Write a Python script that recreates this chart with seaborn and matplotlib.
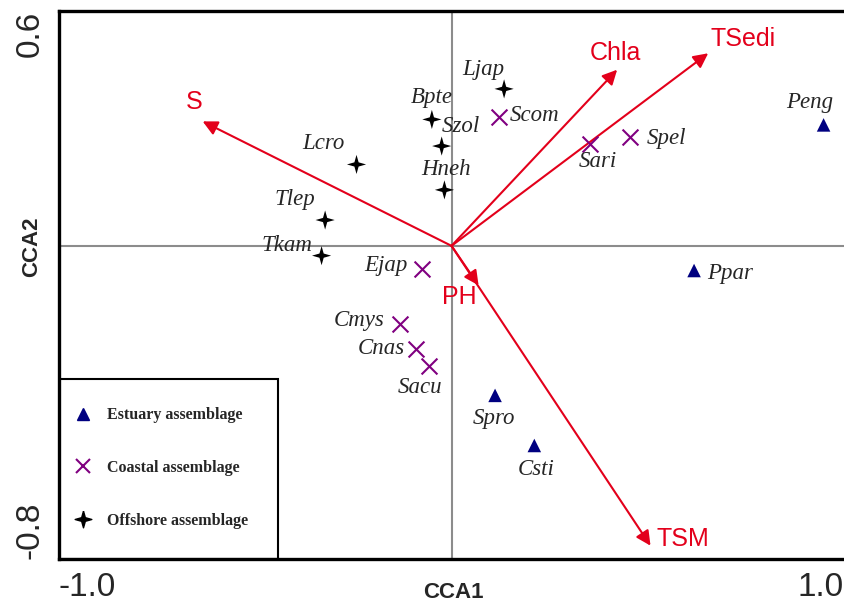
import matplotlib
matplotlib.use("Agg")
import matplotlib.pyplot as plt
from matplotlib.lines import Line2D
from matplotlib.patches import Rectangle
import seaborn as sns
import pandas as pd

# species scores (CCA1, CCA2)
estuary_names = ["Peng", "Ppar", "Spro", "Csti"]
estuary_x = [0.948, 0.618, 0.111, 0.211]
estuary_y = [0.309, -0.063, -0.382, -0.510]

coastal_names = ["Scom", "Ejap", "Sari", "Spel", "Cmys", "Cnas", "Sacu"]
coastal_x = [0.122, -0.074, 0.354, 0.455, -0.132, -0.091, -0.058]
coastal_y = [0.329, -0.060, 0.261, 0.278, -0.199, -0.263, -0.308]

offshore_names = ["Ljap", "Bpte", "Szol", "Hneh", "Lcro", "Tlep", "Tkam"]
offshore_x = [0.134, -0.050, -0.025, -0.018, -0.242, -0.322, -0.331]
offshore_y = [0.401, 0.323, 0.255, 0.143, 0.208, 0.066, -0.025]

# environmental vectors
env_names = ["S", "Chla", "TSedi", "PH", "TSM"]
env_x = [-0.634, 0.422, 0.654, 0.069, 0.507]
env_y = [0.318, 0.450, 0.492, -0.101, -0.766]

# label offsets in points (style only)
lab_off = {
    "Peng": (-10, 16), "Ppar": (26, -2), "Spro": (-1, -17), "Csti": (1, -17),
    "Scom": (25, 1), "Ejap": (-26, 3), "Sari": (5, -13), "Spel": (26, -1),
    "Cmys": (-29, 2), "Cnas": (-25, 0), "Sacu": (-6, -15),
    "Ljap": (-15, 14), "Bpte": (0, 16), "Szol": (14, 14), "Hneh": (1, 15),
    "Lcro": (-24, 15), "Tlep": (-22, 15), "Tkam": (-25, 7),
    "S": (-6, 14), "Chla": (-1, 12), "TSedi": (25, 10), "PH": (-14, -8), "TSM": (23, 5),
}

red = "#E3001B"
star = [(0, 1), (0.22, 0.22), (1, 0), (0.22, -0.22), (0, -1), (-0.22, -0.22), (-1, 0), (-0.22, 0.22), (0, 1)]

df = pd.concat([
    pd.DataFrame({"name": estuary_names, "CCA1": estuary_x, "CCA2": estuary_y, "group": "Estuary assemblage"}),
    pd.DataFrame({"name": coastal_names, "CCA1": coastal_x, "CCA2": coastal_y, "group": "Coastal assemblage"}),
    pd.DataFrame({"name": offshore_names, "CCA1": offshore_x, "CCA2": offshore_y, "group": "Offshore assemblage"}),
], ignore_index=True)

sns.set_style("white")
plt.rcParams["font.family"] = ["Liberation Sans", "DejaVu Sans"]

fig = plt.figure(figsize=(8.44, 6.05), dpi=100)
ax = fig.add_axes([59 / 844, 46 / 605, 785 / 844, 548 / 605])

ax.axhline(0, color="#8c8c8c", lw=1.5, zorder=1)
ax.axvline(0, color="#8c8c8c", lw=1.5, zorder=1)

styles = {
    "Estuary assemblage": dict(marker="^", color="#000080", s=95, lw=0),
    "Coastal assemblage": dict(marker="x", color="#800080", s=130, lw=1.5),
    "Offshore assemblage": dict(marker=star, color="black", s=190, lw=0),
}
for g, st in styles.items():
    sub = df[df["group"] == g]
    sns.scatterplot(data=sub, x="CCA1", y="CCA2", ax=ax, marker=st["marker"], color=st["color"],
                    s=st["s"], linewidth=st["lw"], edgecolor=st["color"] if st["marker"] == "x" else "none",
                    zorder=3, legend=False)

for _, r in df.iterrows():
    ax.annotate(r["name"], (r["CCA1"], r["CCA2"]), xytext=lab_off[r["name"]], textcoords="offset points",
                ha="center", va="center", fontsize=16.5, style="italic", family="Liberation Serif", zorder=4)

for n, x, y in zip(env_names, env_x, env_y):
    ax.annotate("", xy=(x, y), xytext=(0, 0),
                arrowprops=dict(arrowstyle="-|>", color=red, lw=1.5, mutation_scale=22, shrinkA=0, shrinkB=0),
                zorder=2)
    ax.annotate(n, (x, y), xytext=lab_off[n], textcoords="offset points", ha="center", va="center",
                fontsize=18, color=red)

ax.set_xlim(-1.0, 1.0)
ax.set_ylim(-0.8, 0.6)
ax.set_xticks([-1.0, -0.5, 0, 0.5, 1.0])
ax.set_xticklabels(["-1.0", "", "", "", "1.0"], fontsize=24)
ax.set_yticks([-0.8, -0.6, -0.4, -0.2, 0, 0.2, 0.4, 0.6])
ax.set_yticklabels(["-0.8", "", "", "", "", "", "", "0.6"], fontsize=24, rotation=90)
xl = ax.get_xticklabels()
xl[0].set_ha("left")
xl[-1].set_ha("right")
yl = ax.get_yticklabels()
yl[0].set_va("bottom")
yl[-1].set_va("top")
ax.tick_params(axis="both", direction="out", length=4.5, width=1.6, color="black")
ax.tick_params(axis="x", pad=5)
ax.tick_params(axis="y", pad=5)

ax.set_xlabel("CCA1", fontsize=16, fontweight="bold")
ax.set_ylabel("CCA2", fontsize=16, fontweight="bold")
ax.xaxis.set_label_coords(0.502, -0.042)
ax.yaxis.set_label_coords(-0.022, 0.569)

for sp in ["left", "bottom", "top"]:
    ax.spines[sp].set_linewidth(2.4)
    ax.spines[sp].set_color("black")
ax.spines["right"].set_visible(False)

# legend box
ax.add_patch(Rectangle((0, 0), 219 / 785, 180 / 548, transform=ax.transAxes, fill=False,
                       edgecolor="black", lw=1.5, zorder=5))
handles = [
    Line2D([], [], ls="", marker="^", color="#000080", markersize=8, label="Estuary assemblage"),
    Line2D([], [], ls="", marker="x", color="#800080", markersize=10, markeredgewidth=1.5, label="Coastal assemblage"),
    Line2D([], [], ls="", marker=star, color="black", markersize=12, label="Offshore assemblage"),
]
ax.legend(handles=handles, loc="center left", bbox_to_anchor=(14 / 785, 91 / 548), frameon=False,
          borderpad=0, borderaxespad=0, handlelength=1.2, handletextpad=0.9, labelspacing=2.3,
          prop=dict(family="Liberation Serif", weight="bold", size=11.5))

fig.savefig("out.png", dpi=100)
